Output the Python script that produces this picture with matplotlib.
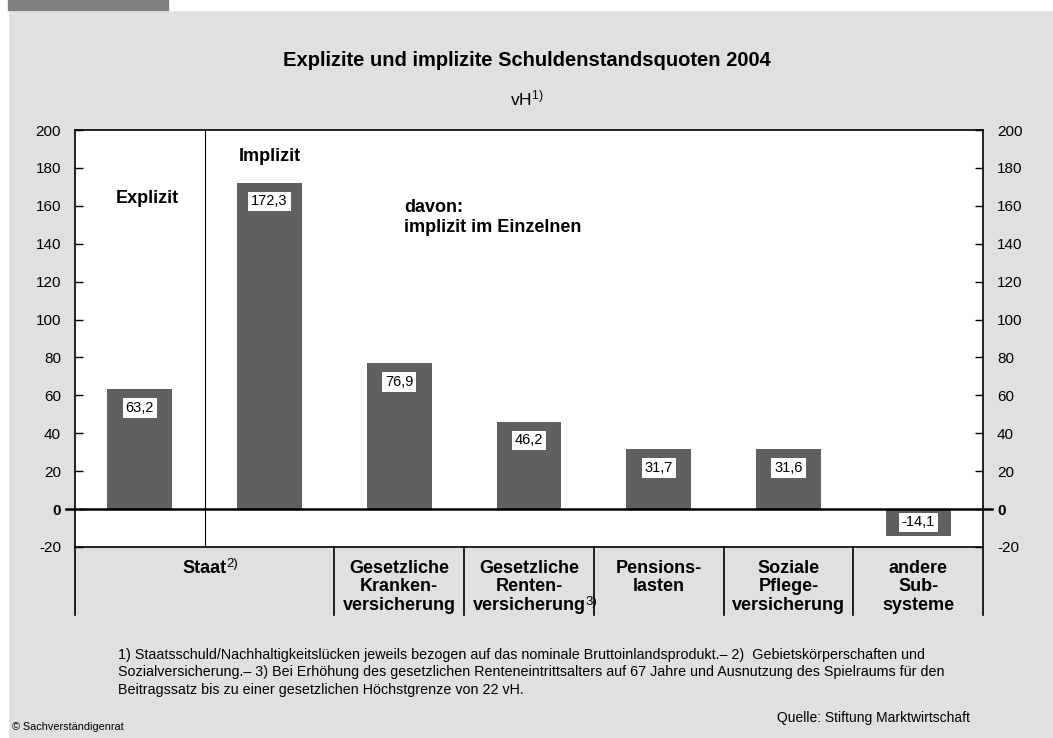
import matplotlib
matplotlib.use("Agg")
import matplotlib.pyplot as plt
import matplotlib.patches as patches
import numpy as np

plt.rcParams['font.family'] = ['Liberation Sans', 'DejaVu Sans']
plt.rcParams['mathtext.fontset'] = 'custom'
plt.rcParams['mathtext.rm'] = 'Liberation Sans'
plt.rcParams['mathtext.it'] = 'Liberation Sans:italic'
plt.rcParams['mathtext.bf'] = 'Liberation Sans:bold'
plt.rcParams['axes.unicode_minus'] = False

# --- Daten ---
werte = [63.2, 172.3, 76.9, 46.2, 31.7, 31.6, -14.1]
gruppen = ["Staat",
           "Gesetzliche\nKranken-\nversicherung",
           "Gesetzliche\nRenten-\nversicherung",
           "Pensions-\nlasten",
           "Soziale\nPflege-\nversicherung",
           "andere\nSub-\nsysteme"]
gruppen_fn = ["2)", "", "3)", "", "", ""]
gruppen_span = [(0, 1), (2, 2), (3, 3), (4, 4), (5, 5), (6, 6)]
yticks = [-20, 0, 20, 40, 60, 80, 100, 120, 140, 160, 180, 200]

titel = "Explizite und implizite Schuldenstandsquoten 2004"
fussnote = ("1) Staatsschuld/Nachhaltigkeitslücken jeweils bezogen auf das nominale Bruttoinlandsprodukt.– 2)  Gebietskörperschaften und\n"
            "Sozialversicherung.– 3) Bei Erhöhung des gesetzlichen Renteneintrittsalters auf 67 Jahre und Ausnutzung des Spielraums für den\n"
            "Beitragssatz bis zu einer gesetzlichen Höchstgrenze von 22 vH.")

W, H = 1053, 738
fig = plt.figure(figsize=(W / 100, H / 100), dpi=100, facecolor='#e0e0e0')

# weisser Rand oben/links und grauer Reiter
fig.patches.append(patches.Rectangle((0, 1 - 10 / H), 1, 10 / H, transform=fig.transFigure,
                                     color='white', zorder=0))
fig.patches.append(patches.Rectangle((0, 0), 8 / W, 1, transform=fig.transFigure,
                                     color='white', zorder=0))
fig.patches.append(patches.Rectangle((8 / W, 1 - 10 / H), 160 / W, 10 / H, transform=fig.transFigure,
                                     color='#808080', zorder=1))

ax = fig.add_axes([75 / W, 1 - 547 / H, 908 / W, 417 / H])
ax.set_facecolor('white')

x = np.arange(len(werte))
ax.bar(x, werte, width=0.5, color='#606060', zorder=2)

ax.set_xlim(-0.5, len(werte) - 0.5)
ax.set_ylim(-20, 200)
ax.set_xticks([])
ax.set_yticks(yticks)
ax.tick_params(axis='y', direction='in', length=6, width=1, right=True, labelright=True,
               labelsize=11, pad=10)
for sp in ax.spines.values():
    sp.set_linewidth(1.2)

# "0" fett auf beiden Seiten
for tick, val in zip(ax.yaxis.get_major_ticks(), yticks):
    if val == 0:
        tick.label1.set_fontweight('bold')
        tick.label2.set_fontweight('bold')

# Nulllinie, leicht über die Achsen hinaus
ax.plot([-0.01, 1.01], [0, 0], color='black', lw=1.8, transform=ax.get_yaxis_transform(),
        clip_on=False, zorder=3)

# Trennlinie explizit / implizit
ax.axvline(0.5, color='black', lw=0.8, zorder=1)

# Werte-Beschriftungen
for xi, v in zip(x, werte):
    ypos = v - 10 if v > 0 else v / 2
    ax.text(xi, ypos, f"{v:.1f}".replace('.', ','), ha='center', va='center', fontsize=10.5,
            zorder=4, bbox=dict(boxstyle='square,pad=0.2', fc='white', ec='none'))

ax.text(0.06, 164, "Explizit", ha='center', va='center', fontsize=13, fontweight='bold')
ax.text(1, 186, "Implizit", ha='center', va='center', fontsize=13, fontweight='bold')
ax.text(2.04, 159, "davon:", ha='left', va='center', fontsize=13, fontweight='bold')
ax.text(2.04, 148.5, "implizit im Einzelnen", ha='left', va='center', fontsize=13, fontweight='bold')

# Tabelle unter der Achse
tr = ax.get_xaxis_transform()
for xl in [-0.5, 1.5, 2.5, 3.5, 4.5, 5.5, 6.5]:
    ax.plot([xl, xl], [0, -0.163], color='black', lw=1.2, transform=tr, clip_on=False)
for lab, fn, (a, b) in zip(gruppen, gruppen_fn, gruppen_span):
    t = ax.text((a + b) / 2, -0.03, lab, ha='center', va='top', fontsize=13, fontweight='bold',
                transform=tr, linespacing=1.12)
    if not fn:
        continue
    if '\n' in lab:
        # Fussnote hinter der letzten Zeile, hochgestellt
        ax.annotate(fn, xy=(1, 0), xycoords=t, xytext=(0, 4), textcoords='offset points',
                    ha='left', va='bottom', fontsize=9.5)
    else:
        ax.annotate(fn, xy=(1, 1), xycoords=t, xytext=(0, 1), textcoords='offset points',
                    ha='left', va='top', fontsize=9.5)

fig.text(527 / W, 1 - 60 / H, titel, ha='center', va='center', fontsize=14.5, fontweight='bold')
fig.text(527 / W, 1 - 98 / H, "vH$^{\\mathrm{1)}}$", ha='center', va='center', fontsize=12.5)

fig.text(118 / W, 1 - 648 / H, fussnote, ha='left', va='top', fontsize=10.3, linespacing=1.3)
fig.text(12 / W, 1 - 727 / H, "© Sachverständigenrat", ha='left', va='center', fontsize=7.8)
fig.text(970 / W, 1 - 718 / H, "Quelle: Stiftung Marktwirtschaft", ha='right', va='center', fontsize=10)

fig.savefig("out.png", dpi=100, facecolor=fig.get_facecolor())
